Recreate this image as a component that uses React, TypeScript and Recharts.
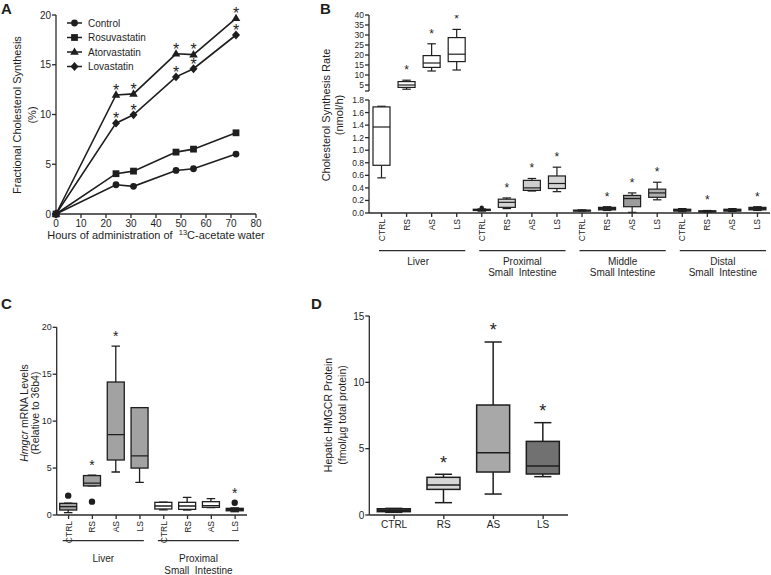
import React from 'react';
import { LineChart, Line, ComposedChart, Bar, XAxis, YAxis, Legend } from 'recharts';

const FONT = '"Liberation Sans", Arial, Helvetica, sans-serif';
const INK = '#1e1e1e';
const AXIS = '#2b2b2b';

// ---------------- Panel A ----------------
const hours = [0, 24, 31, 48, 55, 72];
const control = [0, 2.94, 2.78, 4.38, 4.55, 6.02];
const rosuvastatin = [0, 4.05, 4.31, 6.22, 6.52, 8.16];
const atorvastatin = [0, 11.97, 12.07, 16.1, 16.02, 19.67];
const lovastatin = [0, 9.13, 9.97, 13.78, 14.6, 17.99];
const atorvastatinSig = [false, true, true, true, true, true];
const lovastatinSig = [false, true, true, true, true, true];
const hourTicks = [0, 10, 20, 30, 40, 50, 60, 70, 80];
const percentTicks = [0, 5, 10, 15, 20];
const seriesNames = ['Control', 'Rosuvastatin', 'Atorvastatin', 'Lovastatin'];
const seriesKeys = ['control', 'rosuvastatin', 'atorvastatin', 'lovastatin'];
const seriesMarkers = ['circle', 'square', 'triangle', 'diamond'];
const seriesSigKeys = [null, null, 'atorvastatinSig', 'lovastatinSig'];

const aData = hours.map((t, i) => ({
  t,
  control: control[i],
  rosuvastatin: rosuvastatin[i],
  atorvastatin: atorvastatin[i],
  lovastatin: lovastatin[i],
  atorvastatinSig: atorvastatinSig[i],
  lovastatinSig: lovastatinSig[i],
}));

// ---------------- Panel B ----------------
const treatments = ['CTRL', 'RS', 'AS', 'LS'];
const bTissues = ['Liver', 'Proximal', 'Middle', 'Distal'];
const bMin = [0.56, 2.9, 12.0, 12.5, 0.03, 0.07, 0.35, 0.34, 0.03, 0.04, 0.01, 0.21, 0.02, 0.01, 0.025, 0.04];
const bQ1 = [0.76, 3.8, 13.8, 16.7, 0.04, 0.09, 0.36, 0.39, 0.035, 0.05, 0.1, 0.25, 0.03, 0.015, 0.03, 0.05];
const bMedian = [1.37, 5.0, 16.0, 20.4, 0.05, 0.17, 0.4, 0.47, 0.04, 0.07, 0.23, 0.32, 0.045, 0.025, 0.045, 0.07];
const bQ3 = [1.69, 6.7, 19.7, 28.7, 0.06, 0.22, 0.52, 0.59, 0.045, 0.09, 0.28, 0.38, 0.06, 0.035, 0.06, 0.09];
const bMax = [1.7, 7.4, 25.6, 32.8, 0.065, 0.24, 0.55, 0.73, 0.05, 0.1, 0.32, 0.49, 0.07, 0.04, 0.07, 0.1];
const bSig = [false, true, true, true, false, true, true, true, false, true, true, true, false, true, false, true];
const bOutliers: number[][] = [[], [], [], [], [0.085], [], [], [], [], [], [], [], [], [], [], []];
const bFills = ['#ffffff', '#ffffff', '#ffffff', '#ffffff', '#232323', '#d4d4d4', '#cdcdcd', '#d4d4d4',
  '#e2e2e2', '#2a2a2a', '#9c9c9c', '#b0b0b0', '#2a2a2a', '#2a2a2a', '#2a2a2a', '#2a2a2a'];
const bLowerTicks = [0, 0.2, 0.4, 0.6, 0.8, 1.0, 1.2, 1.4, 1.6, 1.8];
const bUpperTicks = [2, 5, 10, 15, 20, 25, 30, 35, 40];
const bGroupLabels = [['Liver'], ['Proximal', 'Small  Intestine'], ['Middle', 'Small Intestine'], ['Distal', 'Small  Intestine']];

const bRows = bMin.map((mn, i) => ({
  id: `${bTissues[Math.floor(i / 4)]}-${treatments[i % 4]}`,
  label: treatments[i % 4],
  min: mn, q1: bQ1[i], med: bMedian[i], q3: bQ3[i], max: bMax[i],
  sig: bSig[i], out: bOutliers[i], fill: bFills[i],
  lower: bMax[i] <= 1.8 ? [mn, bMax[i]] : null,
  upper: mn >= 2 ? [mn, bMax[i]] : null,
}));

// ---------------- Panel C ----------------
const cTissues = ['Liver', 'Proximal'];
const cMin = [0.25, 3.1, 4.58, 3.48, 0.55, 0.53, 0.8, 0.35];
const cQ1 = [0.53, 3.1, 5.86, 5.0, 0.64, 0.6, 0.82, 0.45];
const cMedian = [0.89, 3.4, 8.56, 6.3, 0.96, 0.96, 0.99, 0.6];
const cQ3 = [1.24, 4.2, 14.17, 11.44, 1.35, 1.35, 1.42, 0.71];
const cMax = [1.25, 4.25, 18.0, 11.45, 1.38, 1.88, 1.74, 0.75];
const cSig = [false, true, true, false, false, false, false, true];
const cOutliers: number[][] = [[2.06], [1.42], [], [], [], [], [], [1.3]];
const cFills = ['#a2a2a2', '#a2a2a2', '#a2a2a2', '#a2a2a2', '#ffffff', '#ffffff', '#ffffff', '#1c1c1c'];
const cTicks = [0, 5, 10, 15, 20];
const cGroupLabels = [['Liver'], ['Proximal', 'Small  Intestine']];

const cRows = cMin.map((mn, i) => ({
  id: `${cTissues[Math.floor(i / 4)]}-${treatments[i % 4]}`,
  label: treatments[i % 4],
  min: mn, q1: cQ1[i], med: cMedian[i], q3: cQ3[i], max: cMax[i],
  sig: cSig[i], out: cOutliers[i], fill: cFills[i],
  range: [mn, cMax[i]],
}));

// ---------------- Panel D ----------------
const dMin = [0.2, 0.93, 1.58, 2.89];
const dQ1 = [0.25, 1.93, 3.24, 3.09];
const dMedian = [0.35, 2.26, 4.7, 3.69];
const dQ3 = [0.47, 2.84, 8.29, 5.55];
const dMax = [0.5, 3.07, 13.04, 6.96];
const dSig = [false, true, true, true];
const dFills = ['#6a6a6a', '#d6d6d6', '#a8a8a8', '#717171'];
const dTicks = [0, 5, 10, 15];

const dRows = dMin.map((mn, i) => ({
  id: treatments[i],
  label: treatments[i],
  min: mn, q1: dQ1[i], med: dMedian[i], q3: dQ3[i], max: dMax[i],
  sig: dSig[i], out: [] as number[], fill: dFills[i],
  range: [mn, dMax[i]],
}));

// ---------------- helpers ----------------
function Star({ x, cy, size }: { x: number; cy: number; size: number }) {
  return (
    <text x={x} y={cy + size * 0.58} textAnchor="middle" fontSize={size} fontFamily={FONT} fill={INK}>*</text>
  );
}

function Marker({ kind, cx, cy }: { kind: string; cx: number; cy: number }) {
  if (kind === 'circle') return <circle cx={cx} cy={cy} r={3.4} fill={INK} />;
  if (kind === 'square') return <rect x={cx - 3.4} y={cy - 3.4} width={6.8} height={6.8} fill={INK} />;
  if (kind === 'triangle')
    return <polygon points={`${cx},${cy - 4.6} ${cx + 4.3},${cy + 2.8} ${cx - 4.3},${cy + 2.8}`} fill={INK} />;
  return <polygon points={`${cx},${cy - 4.4} ${cx + 4},${cy} ${cx},${cy + 4.4} ${cx - 4},${cy}`} fill={INK} />;
}

const makeDot = (kind: string, sigKey: string | null) => (props: any) => {
  const { cx, cy, payload, index } = props;
  if (cx == null || cy == null) return <g key={`e-${kind}-${index}`} />;
  return (
    <g key={`${kind}-${index}`}>
      <Marker kind={kind} cx={cx} cy={cy} />
      {sigKey && payload && payload[sigKey] ? <Star x={cx} cy={cy - 8.5} size={16} /> : null}
    </g>
  );
};

type BoxStyle = { capFrac: number; strokeWidth: number; starSize: number; starGap: number; dotR: number };

const makeBoxShape = (rangeKey: string, st: BoxStyle) => (props: any) => {
  const { x, y, width, height, payload } = props;
  const r = payload ? payload[rangeKey] : null;
  if (!r || x == null || y == null) return <g />;
  const lo = r[0];
  const hi = r[1];
  const top = Math.min(y, y + height);
  const h = Math.abs(height);
  const px = (v: number) => (hi === lo ? top : top + (h * (hi - v)) / (hi - lo));
  const cx = x + width / 2;
  const capW = width * st.capFrac;
  const yMax = px(payload.max);
  const yQ3 = px(payload.q3);
  const yMed = px(payload.med);
  const yQ1 = px(payload.q1);
  const yMin = px(payload.min);
  const outY: number[] = (payload.out || []).map(px);
  const topY = Math.min(yMax, ...outY);
  const sw = st.strokeWidth;
  return (
    <g>
      <line x1={cx} x2={cx} y1={yMax} y2={yQ3} stroke={INK} strokeWidth={sw} />
      <line x1={cx} x2={cx} y1={yQ1} y2={yMin} stroke={INK} strokeWidth={sw} />
      <line x1={cx - capW / 2} x2={cx + capW / 2} y1={yMax} y2={yMax} stroke={INK} strokeWidth={sw} />
      <line x1={cx - capW / 2} x2={cx + capW / 2} y1={yMin} y2={yMin} stroke={INK} strokeWidth={sw} />
      <rect x={x} y={yQ3} width={width} height={Math.max(yQ1 - yQ3, 1)} fill={payload.fill} stroke={INK} strokeWidth={sw} />
      <line x1={x} x2={x + width} y1={yMed} y2={yMed} stroke={INK} strokeWidth={sw} />
      {outY.map((oy, k) => (
        <circle key={k} cx={cx} cy={oy} r={st.dotR} fill={INK} />
      ))}
      {payload.sig ? <Star x={cx} cy={topY - st.starGap} size={st.starSize} /> : null}
    </g>
  );
};

const makeRotTick = (rows: { id: string; label: string }[], fontSize: number) => (props: any) => {
  const { x, y, payload } = props;
  const row = rows.find((r) => r.id === payload.value);
  return (
    <text
      x={x}
      y={y}
      transform={`rotate(-90 ${x} ${y})`}
      textAnchor="end"
      dominantBaseline="central"
      fontSize={fontSize}
      fontFamily={FONT}
      fill={INK}
    >
      {row ? row.label : ''}
    </text>
  );
};

const tickStyle = (fs: number) => ({ fontSize: fs, fill: INK, fontFamily: FONT });

function LegendA() {
  return (
    <svg width={96} height={60} style={{ display: 'block' }}>
      {seriesNames.map((name, i) => {
        const cy = 7 + i * 14.5;
        return (
          <g key={name}>
            <line x1={1} x2={16} y1={cy} y2={cy} stroke={INK} strokeWidth={1.5} />
            <Marker kind={seriesMarkers[i]} cx={8.5} cy={cy} />
            <text x={22} y={cy} dominantBaseline="central" fontSize={10} fontFamily={FONT} fill={INK}>
              {name}
            </text>
          </g>
        );
      })}
    </svg>
  );
}

function RotLabel({ x, y, lines, fs, gap }: { x: number; y: number; lines: React.ReactNode[]; fs: number; gap: number }) {
  return (
    <g>
      {lines.map((ln, i) => (
        <text
          key={i}
          transform={`translate(${x + i * gap},${y}) rotate(-90)`}
          textAnchor="middle"
          dominantBaseline="central"
          fontSize={fs}
          fontFamily={FONT}
          fill={INK}
        >
          {ln}
        </text>
      ))}
    </g>
  );
}

export default function App() {
  // geometry of B/C group underlines (decorations below the category axes)
  const bPlotLeft = 369;
  const bBand = (770 - 369) / 16;
  const cPlotLeft = 56.7;
  const cBand = (247 - 56.7) / 8;

  return (
    <div style={{ position: 'absolute', left: 0, top: 0, width: 771, height: 575, background: '#fff', fontFamily: FONT }}>
      {/* Panel A */}
      <div style={{ position: 'absolute', left: 0, top: 0 }}>
        <LineChart width={390} height={250} data={aData} margin={{ top: 15, right: 134, bottom: 16, left: 26 }}>
          <XAxis
            dataKey="t"
            type="number"
            domain={[0, 80]}
            ticks={hourTicks}
            height={20}
            tickSize={4}
            tickMargin={2}
            stroke={AXIS}
            strokeWidth={1.3}
            tick={tickStyle(10)}
            interval={0}
          />
          <YAxis
            type="number"
            domain={[0, 20]}
            ticks={percentTicks}
            width={30}
            tickSize={4}
            tickMargin={1}
            stroke={AXIS}
            strokeWidth={1.3}
            tick={tickStyle(10)}
            interval={0}
          />
          {seriesKeys.map((k, i) => (
            <Line
              key={k}
              dataKey={k}
              name={seriesNames[i]}
              stroke={INK}
              strokeWidth={1.6}
              dot={makeDot(seriesMarkers[i], seriesSigKeys[i])}
              activeDot={false}
              isAnimationActive={false}
            />
          ))}
          <Legend
            layout="vertical"
            verticalAlign="middle"
            align="center"
            content={() => <LegendA />}
            wrapperStyle={{ position: 'absolute', left: 66, top: 16, width: 96, height: 60 }}
          />
        </LineChart>
      </div>

      {/* Panel B upper segment */}
      <div style={{ position: 'absolute', left: 320, top: 0 }}>
        <ComposedChart width={451} height={100} data={bRows} margin={{ top: 15, right: 1, bottom: 9, left: 19 }}>
          <XAxis dataKey="id" type="category" hide />
          <YAxis
            type="number"
            domain={[2, 40]}
            allowDataOverflow
            ticks={bUpperTicks}
            tickFormatter={(v: number) => (v === 2 ? '' : String(v))}
            width={30}
            tickSize={4}
            tickMargin={1}
            stroke={AXIS}
            strokeWidth={1.3}
            tick={tickStyle(8.5)}
            interval={0}
          />
          <Bar
            dataKey="upper"
            barSize={17}
            isAnimationActive={false}
            shape={makeBoxShape('upper', { capFrac: 0.5, strokeWidth: 1.2, starSize: 12, starGap: 13, dotR: 2 })}
          />
        </ComposedChart>
      </div>

      {/* Panel B lower segment */}
      <div style={{ position: 'absolute', left: 320, top: 85 }}>
        <ComposedChart width={451} height={175} data={bRows} margin={{ top: 15, right: 1, bottom: 12, left: 19 }}>
          <XAxis
            dataKey="id"
            type="category"
            height={35}
            tickSize={4}
            tickMargin={2}
            stroke={AXIS}
            strokeWidth={1.3}
            interval={0}
            tick={makeRotTick(bRows, 8.5)}
          />
          <YAxis
            type="number"
            domain={[0, 1.8]}
            allowDataOverflow
            ticks={bLowerTicks}
            tickFormatter={(v: number) => v.toFixed(1)}
            width={30}
            tickSize={4}
            tickMargin={1}
            stroke={AXIS}
            strokeWidth={1.3}
            tick={tickStyle(8.5)}
            interval={0}
          />
          <Bar
            dataKey="lower"
            barSize={17}
            isAnimationActive={false}
            shape={makeBoxShape('lower', { capFrac: 0.5, strokeWidth: 1.2, starSize: 12, starGap: 13, dotR: 2.2 })}
          />
        </ComposedChart>
      </div>

      {/* Panel C */}
      <div style={{ position: 'absolute', left: 0, top: 300 }}>
        <ComposedChart width={260} height={260} data={cRows} margin={{ top: 27.3, right: 13, bottom: 15, left: 26.7 }}>
          <XAxis
            dataKey="id"
            type="category"
            height={30}
            tickSize={4}
            tickMargin={2}
            stroke={AXIS}
            strokeWidth={1.3}
            interval={0}
            tick={makeRotTick(cRows, 8.5)}
          />
          <YAxis
            type="number"
            domain={[0, 20]}
            allowDataOverflow
            ticks={cTicks}
            width={30}
            tickSize={4}
            tickMargin={1}
            stroke={AXIS}
            strokeWidth={1.3}
            tick={tickStyle(9)}
            interval={0}
          />
          <Bar
            dataKey="range"
            barSize={17}
            isAnimationActive={false}
            shape={makeBoxShape('range', { capFrac: 0.5, strokeWidth: 1.3, starSize: 14, starGap: 13, dotR: 3.2 })}
          />
        </ComposedChart>
      </div>

      {/* Panel D */}
      <div style={{ position: 'absolute', left: 300, top: 300 }}>
        <ComposedChart width={290} height={250} data={dRows} margin={{ top: 16, right: 22, bottom: 15, left: 39.3 }}>
          <XAxis
            dataKey="id"
            type="category"
            height={20}
            tickSize={4}
            tickMargin={2}
            stroke={AXIS}
            strokeWidth={1.3}
            interval={0}
            tick={tickStyle(10)}
          />
          <YAxis
            type="number"
            domain={[0, 15]}
            allowDataOverflow
            ticks={dTicks}
            width={30}
            tickSize={4}
            tickMargin={1}
            stroke={AXIS}
            strokeWidth={1.3}
            tick={tickStyle(10)}
            interval={0}
          />
          <Bar
            dataKey="range"
            barSize={33}
            isAnimationActive={false}
            shape={makeBoxShape('range', { capFrac: 0.52, strokeWidth: 1.5, starSize: 18, starGap: 16, dotR: 3 })}
          />
        </ComposedChart>
      </div>

      {/* Titles, panel letters, group annotations */}
      <svg width={771} height={575} style={{ position: 'absolute', left: 0, top: 0, pointerEvents: 'none' }}>
        <g fontFamily={FONT} fill={INK} fontWeight="bold" fontSize={15}>
          <text x={1} y={14}>A</text>
          <text x={320} y={14}>B</text>
          <text x={1} y={309}>C</text>
          <text x={311} y={309}>D</text>
        </g>

        <RotLabel x={17} y={115} lines={['Fractional Cholesterol Synthesis', '(%)']} fs={11} gap={15} />
        <text x={156} y={239} textAnchor="middle" fontSize={11} fontFamily={FONT} fill={INK} style={{ whiteSpace: 'pre' }}>
          {'Hours of administration of  '}
          <tspan fontSize={7.5} dy={-4}>13</tspan>
          <tspan dy={4}>C-acetate water</tspan>
        </text>

        <RotLabel x={326} y={115} lines={['Cholesterol Synthesis Rate', '(nmol/h)']} fs={11} gap={13} />
        {bGroupLabels.map((lines, g) => {
          const x1 = bPlotLeft + bBand * (4 * g) + 10;
          const x2 = bPlotLeft + bBand * (4 * g + 4) - 4;
          const xc = g === 0 ? (x1 + x2) / 2 - 4 : (x1 + x2) / 2;
          return (
            <g key={g}>
              <line x1={x1} x2={x2} y1={250.7} y2={250.7} stroke={AXIS} strokeWidth={1.3} />
              {lines.map((ln, k) => (
                <text key={k} x={xc} y={265 + k * 11} textAnchor="middle" fontSize={10} fontFamily={FONT} fill={INK} style={{ whiteSpace: 'pre' }}>
                  {ln}
                </text>
              ))}
            </g>
          );
        })}

        <g>
          <text transform="translate(24,413) rotate(-90)" textAnchor="middle" dominantBaseline="central" fontSize={10.5} fontFamily={FONT} fill={INK}>
            <tspan fontStyle="italic">Hmgcr</tspan>
            <tspan>{' mRNA Levels'}</tspan>
          </text>
          <text transform="translate(35,413) rotate(-90)" textAnchor="middle" dominantBaseline="central" fontSize={10.5} fontFamily={FONT} fill={INK}>
            (Relative to 36b4)
          </text>
        </g>
        {cGroupLabels.map((lines, g) => {
          const x1 = cPlotLeft + cBand * (4 * g) + 6;
          const x2 = cPlotLeft + cBand * (4 * g + 4) - 8;
          return (
            <g key={g}>
              <line x1={x1} x2={x2} y1={540.7} y2={540.7} stroke={AXIS} strokeWidth={1.3} />
              {lines.map((ln, k) => (
                <text key={k} x={(x1 + x2) / 2} y={562 + k * 11.5} textAnchor="middle" fontSize={10} fontFamily={FONT} fill={INK} style={{ whiteSpace: 'pre' }}>
                  {ln}
                </text>
              ))}
            </g>
          );
        })}

        <RotLabel x={328} y={415} lines={['Hepatic HMGCR Protein', '(fmol/\u00b5g total protein)']} fs={10.5} gap={14} />
      </svg>
    </div>
  );
}
